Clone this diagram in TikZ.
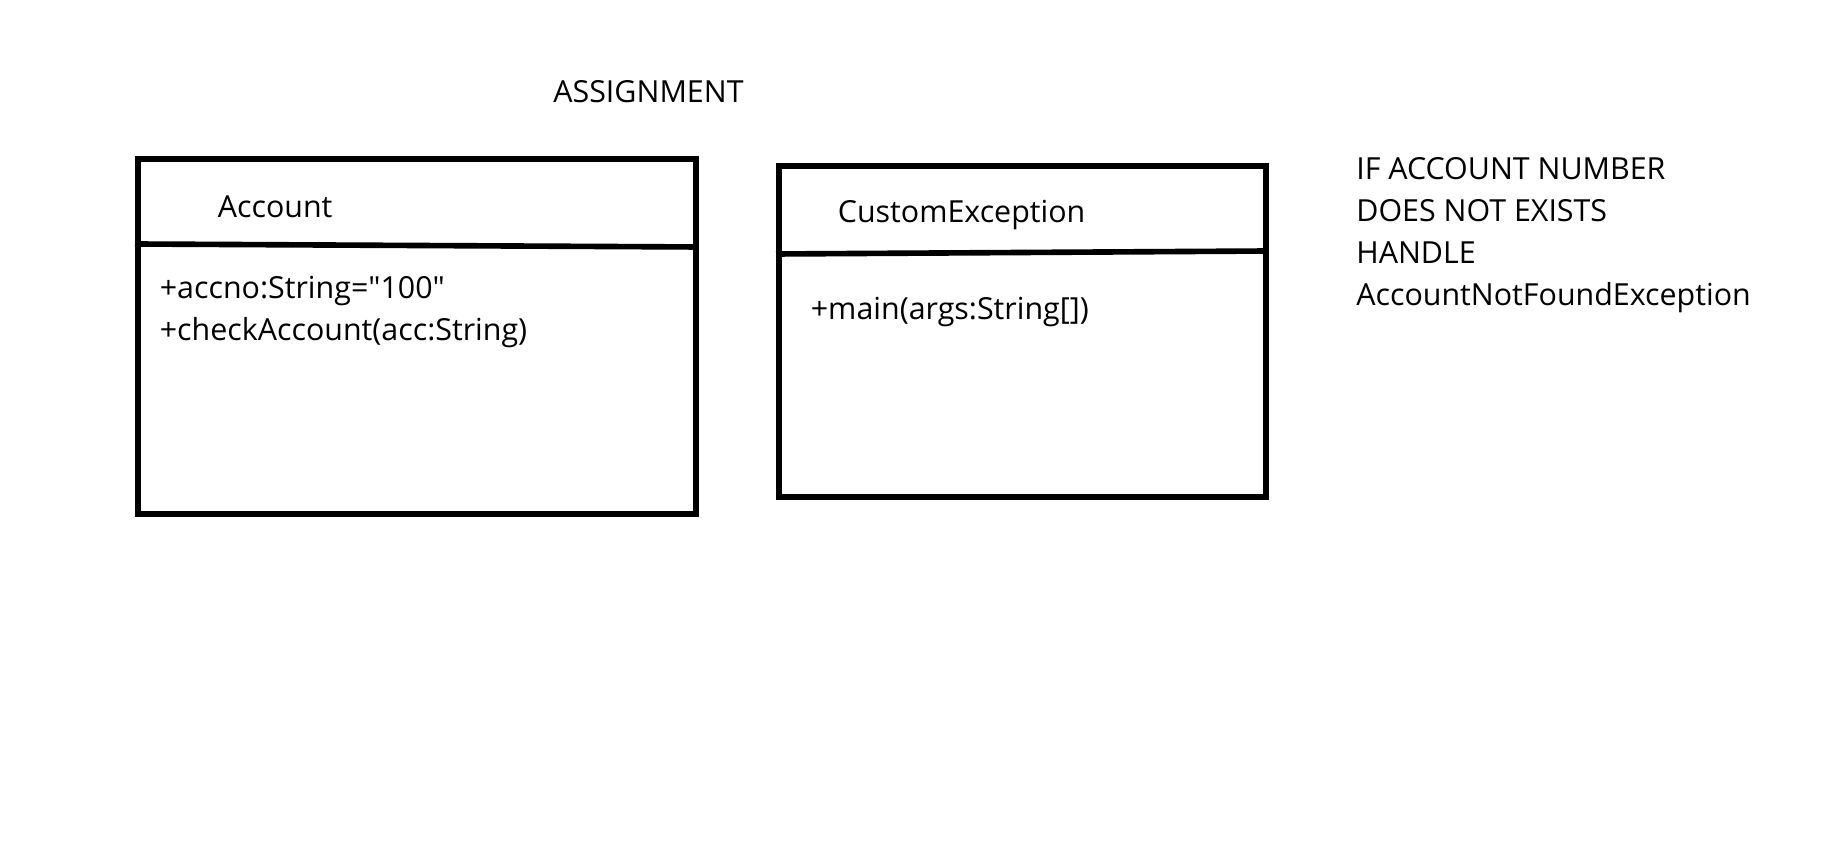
\documentclass[tikz,border=0pt]{standalone}
\usepackage{fontspec}
\setmainfont[Ligatures=TeXOff]{Open Sans}

\begin{document}
\begin{tikzpicture}[x=0.02cm, y=-0.02cm,
        classbox/.style={rectangle, draw=black, line width=3.2pt, fill=white, inner sep=0pt},
        divider/.style={draw=black, line width=3.2pt},
        umltext/.style={font=\fontsize{17.3}{23.8}\selectfont, inner sep=0pt, anchor=base west}
    ]
        \useasboundingbox[fill=white] (0,0) rectangle (1831,846);

        \node[umltext] (title) at (553,102) {ASSIGNMENT};

        % Account class
        \node[classbox, anchor=north west, minimum width=11.16cm, minimum height=7.1cm] (account) at (135,156) {};
        \draw[divider] ([yshift=-1.76cm]account.north west) -- ([yshift=-1.82cm]account.north east);
        \node[umltext] (accname) at ([xshift=1.65cm,yshift=-1.23cm]account.north west) {Account};
        \node[umltext] (accattr) at ([xshift=0.49cm,yshift=-2.85cm]account.north west) {+accno:String="100"};
        \node[umltext] (accop) at ([xshift=0.49cm,yshift=-3.69cm]account.north west) {+checkAccount(acc:String)};

        % CustomException class
        \node[classbox, anchor=north west, minimum width=9.74cm, minimum height=6.62cm] (custom) at (776,163) {};
        \draw[divider] ([yshift=-1.82cm]custom.north west) -- ([yshift=-1.76cm]custom.north east);
        \node[umltext] (cusname) at ([xshift=1.23cm,yshift=-1.19cm]custom.north west) {CustomException};
        \node[umltext] (cusop) at ([xshift=0.69cm,yshift=-3.13cm]custom.north west) {+main(args:String[])};

        % note
        \foreach \y/\line in {179/IF ACCOUNT NUMBER,221/DOES NOT EXISTS,263/HANDLE,305/AccountNotFoundException} {
            \node[umltext] at (1356,\y) {\line};
        }
    \end{tikzpicture}
\end{document}
